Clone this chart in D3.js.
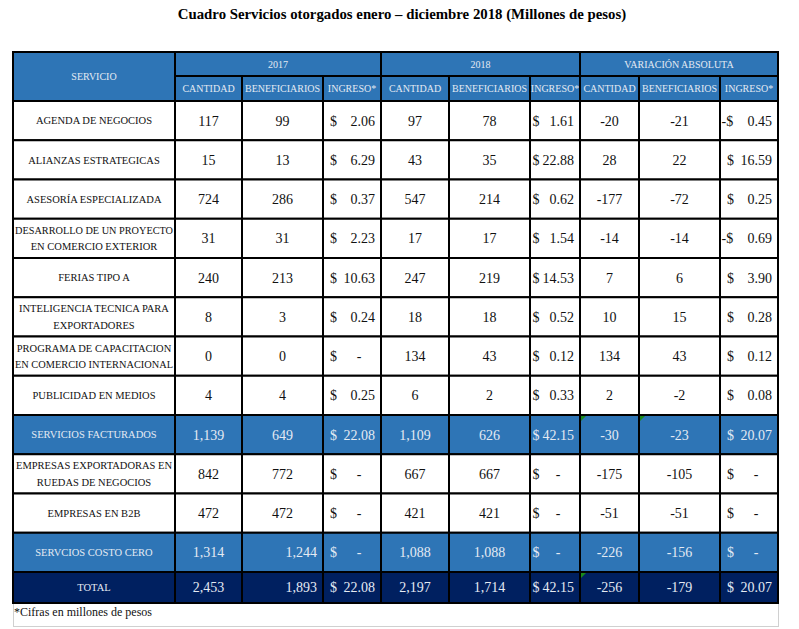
<!DOCTYPE html>
<html>
<head>
<meta charset="utf-8">
<script src="https://cdn.jsdelivr.net/npm/d3@7/dist/d3.min.js"></script>
<style>
  body { margin: 0; background: #fff; }
  svg { display: block; }
</style>
</head>
<body>
<div id="chart"></div>
<script>
// ---- data ----
const title = "Cuadro Servicios otorgados enero – diciembre 2018 (Millones de pesos)";
const footnote = "*Cifras en millones de pesos";
const groups = ["2017", "2018", "VARIACIÓN ABSOLUTA"];
const subHeaders = ["CANTIDAD", "BENEFICIARIOS", "INGRESO*"];

const services = [
    "AGENDA DE NEGOCIOS",
    "ALIANZAS ESTRATEGICAS",
    "ASESORÍA ESPECIALIZADA",
    "DESARROLLO DE UN PROYECTO\nEN COMERCIO EXTERIOR",
    "FERIAS TIPO A",
    "INTELIGENCIA TECNICA PARA\nEXPORTADORES",
    "PROGRAMA DE CAPACITACION\nEN COMERCIO INTERNACIONAL",
    "PUBLICIDAD EN MEDIOS",
    "SERVICIOS FACTURADOS",
    "EMPRESAS EXPORTADORAS EN\nRUEDAS DE NEGOCIOS",
    "EMPRESAS EN B2B",
    "SERVCIOS COSTO CERO",
    "TOTAL"
];
const rowType = ["n", "n", "n", "n", "n", "n", "n", "n", "sub", "n", "n", "sub", "total"];

const cantidad2017      = [117, 15, 724, 31, 240, 8, 0, 4, 1139, 842, 472, 1314, 2453];
const beneficiarios2017 = [99, 13, 286, 31, 213, 3, 0, 4, 649, 772, 472, 1244, 1893];
const ingreso2017       = [2.06, 6.29, 0.37, 2.23, 10.63, 0.24, null, 0.25, 22.08, null, null, null, 22.08];

const cantidad2018      = [97, 43, 547, 17, 247, 18, 134, 6, 1109, 667, 421, 1088, 2197];
const beneficiarios2018 = [78, 35, 214, 17, 219, 18, 43, 2, 626, 667, 421, 1088, 1714];
const ingreso2018       = [1.61, 22.88, 0.62, 1.54, 14.53, 0.52, 0.12, 0.33, 42.15, null, null, null, 42.15];

const cantidadVar       = [-20, 28, -177, -14, 7, 10, 134, 2, -30, -175, -51, -226, -256];
const beneficiariosVar  = [-21, 22, -72, -14, 6, 15, 43, -2, -23, -105, -51, -156, -179];
const ingresoVar        = [-0.45, 16.59, 0.25, -0.69, 3.90, 0.28, 0.12, 0.08, 20.07, null, null, null, 20.07];

// cells that are right aligned in the source sheet
const rightAligned = [[11, "ben2017"], [12, "ben2017"]];
// cells carrying the little green excel marker
const flagged = [[8, "cantVar"], [8, "benVar"], [12, "cantVar"]];

const columns = [
    { key: "cant2017", values: cantidad2017, money: false },
    { key: "ben2017",  values: beneficiarios2017, money: false },
    { key: "ing2017",  values: ingreso2017, money: true },
    { key: "cant2018", values: cantidad2018, money: false },
    { key: "ben2018",  values: beneficiarios2018, money: false },
    { key: "ing2018",  values: ingreso2018, money: true },
    { key: "cantVar",  values: cantidadVar, money: false },
    { key: "benVar",   values: beneficiariosVar, money: false },
    { key: "ingVar",   values: ingresoVar, money: true }
];

// ---- layout ----
const width = 799, height = 629;
const colEdges = [13, 175, 242, 323, 381, 449, 530, 580, 639, 720, 778];
const headTop = 52, headMid = 76, headBottom = 101;
const bodyBottom = 572, totalBottom = 603;

const colKeys = ["servicio"].concat(columns.map(d => d.key));
const x = d3.scaleOrdinal().domain(colKeys).range(colEdges.slice(0, -1));
const w = d3.scaleOrdinal().domain(colKeys).range(colEdges.slice(1).map((e, i) => e - colEdges[i]));

const y = d3.scaleBand()
    .domain(d3.range(services.length - 1))
    .range([headBottom, bodyBottom]);
const rowY = i => i < services.length - 1 ? y(i) : bodyBottom;
const rowH = i => i < services.length - 1 ? y.bandwidth() : totalBottom - bodyBottom;

const fills = { n: "#ffffff", sub: "#2e75b6", total: "#002060" };
const headFill = "#2e75b6";
const lightText = "#e4eaf3";
const serif = "'Liberation Serif', 'Times New Roman', serif";

const svg = d3.select("#chart").append("svg")
    .attr("width", width)
    .attr("height", height)
    .style("font-family", serif);

svg.append("text")
    .attr("x", 402)
    .attr("y", 19)
    .attr("text-anchor", "middle")
    .style("font-size", "14.8px")
    .style("font-weight", "bold")
    .text(title);

// outer light frame (table + footnote)
svg.append("rect")
    .attr("x", 13.5).attr("y", headTop)
    .attr("width", 765).attr("height", 574.5)
    .attr("fill", "none")
    .attr("stroke", "#d0d0d0");

const stroke = "#000", sw = 2;

function cell(g, x0, y0, cw, ch, fill) {
    g.append("rect")
        .attr("x", x0).attr("y", y0)
        .attr("width", cw).attr("height", ch)
        .attr("fill", fill)
        .attr("stroke", stroke)
        .attr("stroke-width", sw);
}

// ---- header ----
const head = svg.append("g");
cell(head, x("servicio"), headTop, w("servicio"), headBottom - headTop, headFill);
head.append("text")
    .attr("x", x("servicio") + w("servicio") / 2)
    .attr("y", (headTop + headBottom) / 2)
    .attr("dy", "0.35em")
    .attr("text-anchor", "middle")
    .attr("fill", lightText)
    .style("font-size", "10px")
    .text("SERVICIO");

groups.forEach(function(gname, gi) {
    const first = columns[gi * 3].key, last = columns[gi * 3 + 2].key;
    const gx = x(first), gw = x(last) + w(last) - gx;
    cell(head, gx, headTop, gw, headMid - headTop, headFill);
    head.append("text")
        .attr("x", gx + gw / 2)
        .attr("y", (headTop + headMid) / 2)
        .attr("dy", "0.35em")
        .attr("text-anchor", "middle")
        .attr("fill", lightText)
        .style("font-size", "10px")
        .text(gname);
    subHeaders.forEach(function(s, si) {
        const k = columns[gi * 3 + si].key;
        cell(head, x(k), headMid, w(k), headBottom - headMid, headFill);
        head.append("text")
            .attr("x", x(k) + w(k) / 2)
            .attr("y", (headMid + headBottom) / 2)
            .attr("dy", "0.35em")
            .attr("text-anchor", "middle")
            .attr("fill", lightText)
            .style("font-size", "10px")
            .text(s);
    });
});

// ---- body ----
const locale = d3.formatLocale({ decimal: ".", thousands: ",", grouping: [3], currency: ["$", ""], minus: "-" });
const fmtInt = locale.format(",");
const fmtMoney = locale.format(".2f");
const body = svg.append("g");

services.forEach(function(name, i) {
    const type = rowType[i];
    const ry = rowY(i), rh = rowH(i), cy = ry + rh / 2;
    const color = type === "n" ? "#111" : lightText;

    cell(body, x("servicio"), ry, w("servicio"), rh, fills[type]);
    const lines = name.split("\n");
    lines.forEach(function(line, li) {
        const t = body.append("text")
            .attr("x", x("servicio") + w("servicio") / 2)
            .attr("y", cy + (li - (lines.length - 1) / 2) * 16.5)
            .attr("dy", "0.35em")
            .attr("text-anchor", "middle")
            .attr("fill", color)
            .style("font-size", "10.5px")
            .text(line);
        const len = t.node().getComputedTextLength();
        if (len > w("servicio") - 4) {
            t.attr("textLength", w("servicio") - 4).attr("lengthAdjust", "spacingAndGlyphs");
        }
    });

    columns.forEach(function(col) {
        const cx0 = x(col.key), cw = w(col.key);
        cell(body, cx0, ry, cw, rh, fills[type]);
        const v = col.values[i];
        const txt = body.append("g").attr("fill", color).style("font-size", "14px");
        if (!col.money) {
            const right = rightAligned.some(d => d[0] === i && d[1] === col.key);
            txt.append("text")
                .attr("x", right ? cx0 + cw - 6 : cx0 + cw / 2)
                .attr("y", cy)
                .attr("dy", "0.35em")
                .attr("text-anchor", right ? "end" : "middle")
                .text(fmtInt(v));
        } else {
            const dollarX = col.key === "ing2018" ? cx0 + 2.5 : cx0 + 7;
            txt.append("text")
                .attr("x", v !== null && v < 0 ? cx0 + 1.5 : dollarX)
                .attr("y", cy)
                .attr("dy", "0.35em")
                .text(v !== null && v < 0 ? "-$" : "$");
            if (v === null) {
                txt.append("text")
                    .attr("x", cx0 + cw - 22)
                    .attr("y", cy)
                    .attr("dy", "0.35em")
                    .attr("text-anchor", "middle")
                    .text("-");
            } else {
                txt.append("text")
                    .attr("x", cx0 + cw - 6)
                    .attr("y", cy)
                    .attr("dy", "0.35em")
                    .attr("text-anchor", "end")
                    .text(fmtMoney(Math.abs(v)));
            }
        }
        if (flagged.some(d => d[0] === i && d[1] === col.key)) {
            body.append("path")
                .attr("d", `M${cx0 + 1},${ry + 1}h5l-5,5z`)
                .attr("fill", "#1a8a1a");
        }
    });
});

svg.append("text")
    .attr("x", 14)
    .attr("y", 616)
    .style("font-size", "12px")
    .attr("fill", "#111")
    .text(footnote);
</script>
</body>
</html>
